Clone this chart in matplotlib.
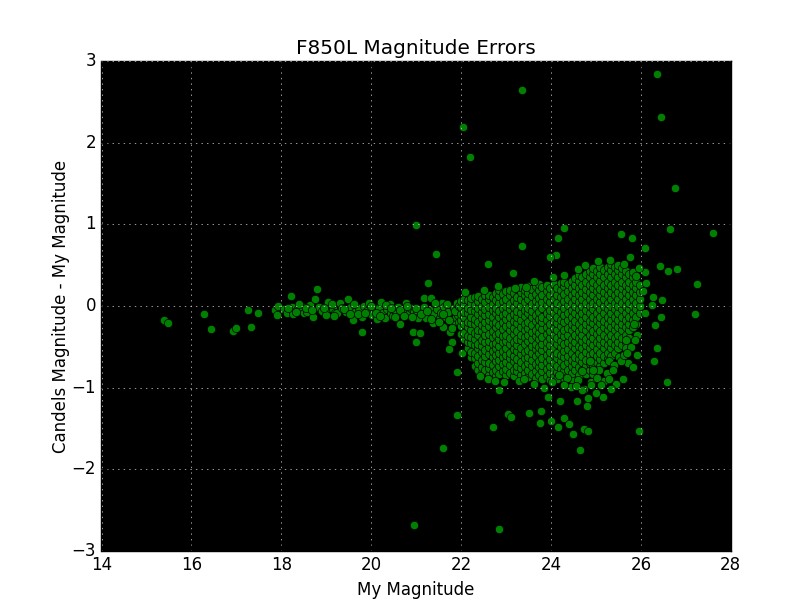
import matplotlib
matplotlib.use('Agg')
import matplotlib.pyplot as plt

# sparse points along the bright end (My Magnitude, difference)
band_pts = [
    (15.40, -0.17), (15.47, -0.21), (16.29, -0.10), (16.43, -0.28), (16.92, -0.31),
    (17.00, -0.27), (17.25, -0.05), (17.32, -0.26), (17.49, -0.09),
    (17.85, -0.05), (17.90, -0.11), (17.92, 0.00), (18.05, -0.04), (18.12, -0.08),
    (18.21, 0.12), (18.23, -0.01), (18.27, -0.10), (18.36, -0.05), (18.45, -0.01),
    (18.50, -0.09), (18.58, -0.07), (18.63, 0.01), (18.70, -0.13), (18.74, 0.09),
    (18.79, 0.21), (18.83, -0.01), (18.90, -0.06), (19.00, -0.11), (19.03, 0.05),
    (19.08, -0.02), (19.14, -0.04), (19.20, -0.08), (19.25, -0.09), (19.30, 0.04),
    (19.36, -0.03), (19.45, -0.07), (19.48, 0.09), (19.54, -0.01), (19.59, -0.17),
    (19.65, -0.07), (19.72, -0.02), (19.79, -0.14), (19.79, -0.32), (19.83, 0.00),
    (19.90, -0.06), (19.96, 0.04), (20.01, -0.11), (20.06, -0.03), (20.12, -0.16),
    (20.17, -0.02), (20.21, 0.05), (20.26, -0.08), (20.30, -0.15), (20.36, -0.04),
    (20.41, 0.02), (20.43, -0.09), (20.49, -0.12), (20.54, -0.05), (20.60, -0.01),
    (20.63, -0.22), (20.68, -0.08), (20.75, -0.05), (20.77, 0.04), (20.83, -0.10),
    (20.88, -0.02), (20.92, -0.32), (20.95, -0.07), (20.99, -0.44), (21.01, -0.07),
    (21.05, -0.15), (21.08, -0.33), (21.12, -0.04), (21.17, 0.10), (21.17, -0.01),
    (21.20, -0.10), (21.23, -0.15), (21.26, 0.28), (21.30, -0.05), (21.34, 0.10),
    (21.37, -0.21), (21.40, -0.10), (21.46, -0.04), (21.52, -0.15), (21.55, -0.08),
    (21.57, 0.04), (21.59, -0.26), (21.63, -0.01), (21.66, -0.14), (21.70, -0.07),
    (21.75, -0.32), (21.79, -0.44), (21.81, -0.20), (21.84, -0.02), (21.88, -0.13),
    (21.90, 0.04), (21.92, -0.11), (21.72, -0.53), (21.90, -0.81), (22.01, -0.58),
    (18.15, -0.03), (18.32, -0.07), (18.40, 0.02), (18.55, -0.02), (18.68, -0.05),
    (18.95, -0.02), (19.12, 0.02), (19.18, -0.12), (19.40, -0.04), (19.52, -0.10),
    (19.62, 0.02), (19.70, -0.10), (19.86, -0.08), (20.00, 0.00), (20.10, -0.09),
    (20.20, -0.12), (20.32, 0.01), (20.45, -0.03), (20.52, -0.14), (20.65, -0.05),
    (20.72, -0.12), (20.80, 0.00), (20.90, -0.13), (21.00, -0.02), (21.10, -0.10),
    (21.25, -0.06), (21.32, -0.16), (21.42, 0.04), (21.50, -0.20), (21.60, -0.10),
    (21.68, 0.02), (21.73, -0.17), (21.86, -0.06), (21.95, -0.20), (21.95, 0.00),
    (21.80, -0.27),
]

# dense cloud of faint sources: one entry per magnitude column
cloud_cols = [
    (22.00, [-0.34, -0.25, -0.17, -0.10, -0.01, 0.06]),
    (22.07, [-0.40, -0.33, -0.22, -0.14, -0.07, 0.03, 0.09]),
    (22.15, [-0.52, -0.44, -0.37, -0.26, -0.19, -0.08, -0.02, 0.07]),
    (22.22, [-0.63, -0.56, -0.45, -0.38, -0.30, -0.21, -0.13, -0.05, 0.04, 0.10]),
    (22.30, [-0.74, -0.64, -0.57, -0.48, -0.41, -0.33, -0.22, -0.16, -0.06, 0.01, 0.11]),
    (22.37, [-0.79, -0.70, -0.61, -0.52, -0.46, -0.35, -0.29, -0.19, -0.10, -0.03, 0.06, 0.12]),
    (22.46, [-0.82, -0.75, -0.66, -0.56, -0.49, -0.42, -0.31, -0.23, -0.15, -0.07, 0.00, 0.09]),
    (22.53, [-0.79, -0.69, -0.61, -0.54, -0.44, -0.36, -0.27, -0.20, -0.11, -0.04, 0.05, 0.13]),
    (22.61, [-0.84, -0.76, -0.70, -0.59, -0.50, -0.43, -0.34, -0.24, -0.17, -0.10, -0.01, 0.08, 0.14]),
    (22.70, [-0.81, -0.72, -0.63, -0.55, -0.47, -0.38, -0.31, -0.21, -0.14, -0.05, 0.03, 0.11]),
    (22.77, [-0.86, -0.79, -0.68, -0.60, -0.52, -0.45, -0.35, -0.26, -0.19, -0.09, -0.02, 0.07, 0.16]),
    (22.85, [-0.83, -0.74, -0.66, -0.58, -0.49, -0.40, -0.33, -0.23, -0.13, -0.06, 0.04, 0.12, 0.19]),
    (22.94, [-0.80, -0.71, -0.62, -0.55, -0.44, -0.37, -0.28, -0.19, -0.11, -0.02, 0.06, 0.15]),
    (23.01, [-0.85, -0.77, -0.69, -0.60, -0.51, -0.43, -0.36, -0.25, -0.16, -0.08, 0.00, 0.09, 0.18]),
    (23.09, [-0.82, -0.72, -0.64, -0.57, -0.47, -0.39, -0.30, -0.22, -0.14, -0.04, 0.03, 0.13, 0.20]),
    (23.18, [-0.86, -0.78, -0.68, -0.61, -0.53, -0.44, -0.34, -0.27, -0.18, -0.10, -0.01, 0.07, 0.16]),
    (23.25, [-0.80, -0.73, -0.65, -0.55, -0.48, -0.40, -0.31, -0.21, -0.13, -0.06, 0.04, 0.11, 0.21]),
    (23.33, [-0.85, -0.76, -0.69, -0.59, -0.52, -0.42, -0.35, -0.26, -0.17, -0.09, 0.00, 0.08, 0.17, 0.23]),
    (23.42, [-0.82, -0.74, -0.64, -0.56, -0.46, -0.38, -0.30, -0.22, -0.12, -0.05, 0.05, 0.13, 0.20]),
    (23.49, [-0.87, -0.78, -0.70, -0.62, -0.54, -0.43, -0.36, -0.27, -0.19, -0.09, -0.02, 0.09, 0.16, 0.24]),
    (23.57, [-0.83, -0.74, -0.66, -0.58, -0.49, -0.40, -0.32, -0.23, -0.14, -0.06, 0.03, 0.12, 0.21]),
    (23.66, [-0.88, -0.80, -0.71, -0.61, -0.53, -0.46, -0.37, -0.29, -0.18, -0.11, -0.01, 0.06, 0.15, 0.24]),
    (23.74, [-0.84, -0.75, -0.67, -0.57, -0.50, -0.41, -0.33, -0.24, -0.16, -0.07, 0.02, 0.10, 0.19, 0.27]),
    (23.81, [-0.89, -0.80, -0.72, -0.64, -0.54, -0.47, -0.38, -0.28, -0.20, -0.13, -0.03, 0.05, 0.14, 0.23]),
    (23.90, [-0.86, -0.77, -0.69, -0.60, -0.51, -0.44, -0.34, -0.26, -0.17, -0.08, 0.01, 0.09, 0.18, 0.26]),
    (23.97, [-0.91, -0.82, -0.73, -0.65, -0.56, -0.48, -0.39, -0.31, -0.22, -0.12, -0.05, 0.05, 0.13, 0.22]),
    (24.06, [-0.86, -0.78, -0.70, -0.60, -0.52, -0.43, -0.35, -0.27, -0.18, -0.09, 0.00, 0.08, 0.17, 0.27]),
    (24.14, [-0.90, -0.81, -0.74, -0.64, -0.57, -0.47, -0.39, -0.30, -0.21, -0.14, -0.04, 0.04, 0.13, 0.22]),
    (24.22, [-0.85, -0.77, -0.68, -0.60, -0.50, -0.43, -0.34, -0.25, -0.17, -0.07, 0.01, 0.11, 0.19, 0.28]),
    (24.30, [-0.88, -0.80, -0.72, -0.63, -0.55, -0.46, -0.37, -0.29, -0.20, -0.11, -0.03, 0.06, 0.15, 0.24, 0.30]),
    (24.38, [-0.86, -0.78, -0.69, -0.61, -0.53, -0.44, -0.35, -0.27, -0.17, -0.09, 0.01, 0.09, 0.18, 0.27]),
    (24.46, [-0.90, -0.82, -0.74, -0.66, -0.57, -0.48, -0.40, -0.30, -0.22, -0.13, -0.05, 0.04, 0.13, 0.22, 0.31]),
    (24.54, [-0.79, -0.70, -0.62, -0.52, -0.44, -0.36, -0.26, -0.18, -0.09, 0.00, 0.08, 0.17, 0.26, 0.34]),
    (24.62, [-0.84, -0.75, -0.65, -0.57, -0.49, -0.39, -0.31, -0.22, -0.12, -0.04, 0.05, 0.13, 0.22, 0.31, 0.38]),
    (24.70, [-0.78, -0.69, -0.61, -0.52, -0.43, -0.35, -0.27, -0.17, -0.09, 0.00, 0.09, 0.17, 0.26, 0.35]),
    (24.78, [-0.83, -0.74, -0.66, -0.56, -0.48, -0.40, -0.30, -0.22, -0.13, -0.05, 0.04, 0.13, 0.21, 0.30, 0.39]),
    (24.86, [-0.78, -0.70, -0.60, -0.52, -0.44, -0.35, -0.26, -0.18, -0.08, 0.00, 0.09, 0.17, 0.26, 0.35, 0.43]),
    (24.94, [-0.83, -0.73, -0.65, -0.57, -0.48, -0.39, -0.31, -0.21, -0.13, -0.04, 0.04, 0.14, 0.22, 0.30, 0.39, 0.47]),
    (25.02, [-0.78, -0.69, -0.61, -0.53, -0.44, -0.34, -0.26, -0.17, -0.09, 0.01, 0.09, 0.18, 0.26, 0.35, 0.43]),
    (25.10, [-0.74, -0.65, -0.57, -0.47, -0.39, -0.31, -0.21, -0.13, -0.04, 0.05, 0.13, 0.21, 0.31, 0.39, 0.48]),
    (25.18, [-0.70, -0.61, -0.52, -0.44, -0.35, -0.26, -0.18, -0.09, 0.00, 0.09, 0.17, 0.26, 0.35, 0.44]),
    (25.26, [-0.65, -0.57, -0.48, -0.39, -0.30, -0.22, -0.13, -0.04, 0.04, 0.13, 0.22, 0.30, 0.39, 0.48]),
    (25.34, [-0.61, -0.52, -0.44, -0.35, -0.26, -0.17, -0.09, 0.00, 0.09, 0.17, 0.26, 0.35, 0.44, 0.52]),
    (25.42, [-0.57, -0.48, -0.39, -0.30, -0.22, -0.13, -0.04, 0.04, 0.13, 0.22, 0.30, 0.39, 0.48]),
    (25.50, [-0.52, -0.44, -0.35, -0.26, -0.17, -0.09, 0.00, 0.09, 0.17, 0.26, 0.35, 0.44, 0.50]),
    (25.58, [-0.48, -0.39, -0.30, -0.22, -0.13, -0.04, 0.04, 0.13, 0.22, 0.30, 0.39, 0.46]),
    (25.66, [-0.44, -0.35, -0.26, -0.17, -0.09, 0.00, 0.09, 0.17, 0.26, 0.35, 0.43]),
    (25.74, [-0.39, -0.30, -0.22, -0.13, -0.04, 0.04, 0.13, 0.22, 0.30, 0.39]),
    (25.82, [-0.26, -0.17, -0.09, 0.00, 0.09, 0.17, 0.26, 0.35, 0.42]),
    (25.90, [-0.22, -0.13, -0.04, 0.04, 0.13, 0.22, 0.30, 0.37]),
    (25.98, [-0.09, 0.00, 0.09, 0.17, 0.26]),
]

# scattered sources around the cloud and far outliers
outlier_pts = [
    (22.05, 2.19), (22.20, 1.82), (23.35, 2.65), (26.35, 2.84), (26.45, 2.32),
    (26.75, 1.44), (21.00, 0.99), (21.45, 0.64), (22.60, 0.52), (23.35, 0.74),
    (24.30, 0.96), (24.15, 0.83), (24.12, 0.62), (23.98, 0.60), (25.55, 0.88),
    (25.80, 0.83), (25.75, 0.60), (26.10, 0.71), (26.65, 0.94), (27.60, 0.89),
    (26.80, 0.45), (27.25, 0.27), (27.20, -0.10), (26.42, 0.49), (26.60, 0.43),
    (26.48, 0.07), (26.44, -0.13), (26.31, -0.23), (26.35, -0.52), (26.29, -0.68),
    (26.58, -0.93), (25.95, -1.53), (21.60, -1.74), (21.90, -1.33), (22.70, -1.48),
    (23.05, -1.32), (23.10, -1.36), (23.50, -1.31), (23.78, -1.29), (23.75, -1.43),
    (24.00, -1.41), (24.15, -1.48), (24.30, -1.37), (24.40, -1.45), (24.50, -1.57),
    (24.65, -1.76), (24.74, -1.51), (24.83, -1.53), (20.95, -2.68), (22.85, -2.73),
    (22.85, -1.03), (23.15, 0.40), (23.44, 0.23), (23.21, 0.22), (24.28, 0.38),
    (24.59, 0.45), (25.31, 0.56), (26.09, 0.42), (26.11, 0.28), (26.27, 0.11),
    (26.24, 0.01), (26.09, -0.08), (25.91, -0.36), (25.84, -0.22), (23.93, -1.11),
    (24.19, -1.17), (24.57, -1.17), (24.79, -1.22), (24.82, -1.13), (25.15, -1.11),
    (24.99, -1.07), (24.73, -1.02), (24.68, -1.03), (24.44, -0.99), (24.02, -0.93),
    (24.17, -0.84), (24.59, -0.91), (24.88, -0.93), (24.86, -0.68), (25.06, -0.78),
    (24.93, -0.78), (25.28, -0.67), (25.41, -0.72), (25.66, -0.52), (25.66, -0.42),
    (25.45, -0.95), (25.60, -0.90), (25.33, -1.02), (25.71, -0.70), (25.82, -0.75),
    (25.92, -0.60), (24.35, -0.88), (24.70, -0.80), (25.18, -0.92), (25.52, -0.62),
    (22.59, -0.90), (22.75, -0.92), (22.43, -0.86), (23.28, -0.92), (23.62, -0.95),
    (23.40, -0.90), (22.95, -0.93), (23.85, -1.00), (22.08, 0.17), (22.50, 0.20),
    (22.82, 0.25), (23.62, 0.31), (24.05, 0.35), (24.75, 0.50), (25.05, 0.55),
    (25.62, 0.52), (25.96, 0.47), (26.05, 0.18), (25.25, -0.82), (25.38, -0.78),
    (25.55, -0.68), (25.62, -0.60), (25.78, -0.50), (25.86, -0.42), (25.02, -0.88),
    (24.90, -0.97), (25.12, -0.97), (25.30, -0.90), (24.55, -0.98), (24.30, -0.97),
    (25.70, -0.58),
]

my_mag = [p[0] for p in band_pts]
mag_diff = [p[1] for p in band_pts]
for x, ys in cloud_cols:
    my_mag += [x] * len(ys)
    mag_diff += ys
my_mag += [p[0] for p in outlier_pts]
mag_diff += [p[1] for p in outlier_pts]

plt.style.use('classic')
fig = plt.figure(figsize=(8.12, 6.12), dpi=100)
ax = fig.add_subplot(111, facecolor='k')
ax.plot(my_mag, mag_diff, 'o', color='g', markersize=6,
        markeredgecolor='k', markeredgewidth=0.5)
ax.set_xlim(14, 28)
ax.set_ylim(-3, 3)
ax.grid(True, color='0.85', linestyle=':')
ax.set_title('F850L Magnitude Errors')
ax.set_xlabel('My Magnitude')
ax.set_ylabel('Candels Magnitude - My Magnitude', labelpad=1)
fig.savefig('out.png', dpi=100)
